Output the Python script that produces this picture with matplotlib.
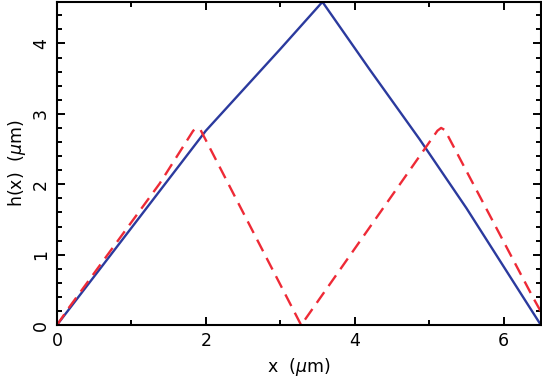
import numpy as np
import matplotlib
matplotlib.use("Agg")
import matplotlib.pyplot as plt
from matplotlib.ticker import MultipleLocator

# solid blue profile h(x)
blue_x = [0.0, 1.0, 2.0, 2.5, 3.0, 3.566, 4.2, 4.87, 5.5, 6.0, 6.5]
blue_y = [0.0, 1.38, 2.76, 3.34, 3.92, 4.59, 3.63, 2.64, 1.66, 0.83, 0.0]

# dashed red profile
red_x = [0.0, 0.17, 1.38, 1.83, 1.88, 1.93, 3.28, 5.11, 5.16, 5.21, 6.39, 6.5]
red_y = [0.0, 0.26, 2.01, 2.76, 2.80, 2.77, 0.0, 2.76, 2.80, 2.77, 0.40, 0.19]

fig = plt.figure(figsize=(5.42, 3.78), dpi=100)
ax = fig.add_axes([0.105, 0.140, 0.893, 0.855])

ax.plot(blue_x, blue_y, color="#2b3a9e", lw=1.7, solid_joinstyle="miter")
ax.plot(red_x, red_y, color="#ee2a36", lw=1.7, dashes=(5.5, 3.2))

ax.set_xlim(0, 6.5)
ax.set_ylim(0, 4.59)

ax.xaxis.set_major_locator(MultipleLocator(2))
ax.xaxis.set_minor_locator(MultipleLocator(1))
ax.yaxis.set_major_locator(MultipleLocator(1))
ax.yaxis.set_minor_locator(MultipleLocator(0.2))

ax.tick_params(which="both", direction="in", top=True, right=True, width=1.4)
ax.tick_params(which="major", length=6, labelsize=12.5, pad=5)
ax.tick_params(which="minor", length=3.5)
for lab in ax.get_yticklabels() + ax.get_xticklabels():
    lab.set_fontweight("medium")
for lab in ax.get_yticklabels():
    lab.set_rotation(90)
    lab.set_va("center")

for sp in ax.spines.values():
    sp.set_linewidth(1.5)

ax.set_xlabel(r"x  ($\mu$m)", fontsize=12.5, labelpad=4)
ax.set_ylabel(r"h(x)  ($\mu$m)", fontsize=12.5, labelpad=3)

fig.savefig("out.png", dpi=100)
